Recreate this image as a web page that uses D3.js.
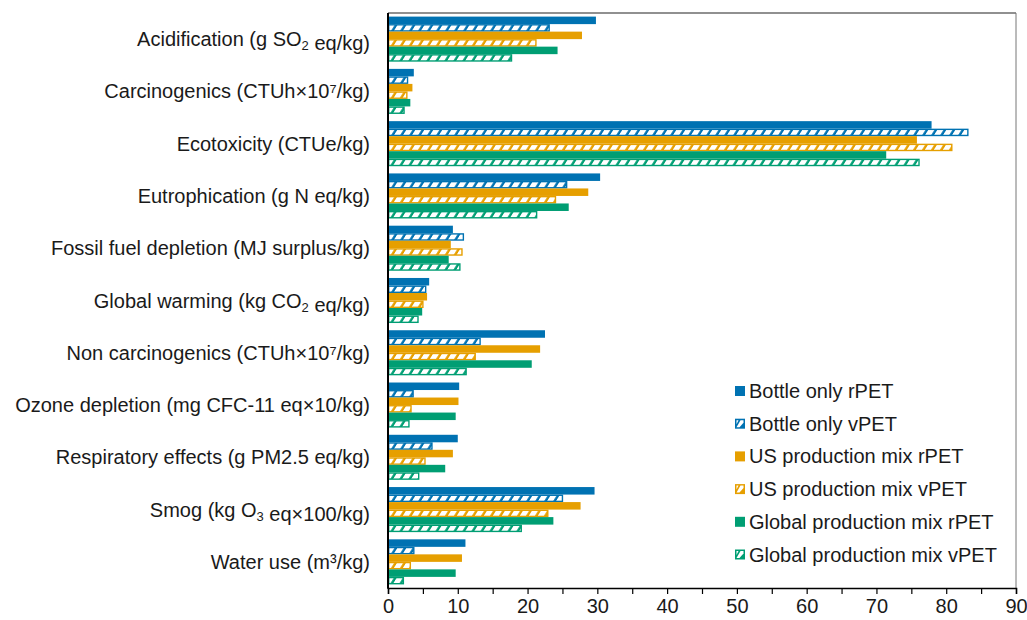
<!DOCTYPE html>
<html>
<head>
<meta charset="utf-8">
<script src="https://cdn.jsdelivr.net/npm/d3@7"></script>
<style>
  html, body { margin: 0; padding: 0; background: #fff; }
  svg { display: block; }
  text { font-family: "Liberation Sans", Arial, sans-serif; fill: #1a1a1a; }
</style>
</head>
<body>
<svg id="chart" width="1027" height="620"></svg>
<script>
// Impact categories; "_{x}" marks a subscript
const categories = [
  "Acidification (g SO_{2} eq/kg)",
  "Carcinogenics (CTUh×10⁷/kg)",
  "Ecotoxicity (CTUe/kg)",
  "Eutrophication (g N eq/kg)",
  "Fossil fuel depletion (MJ surplus/kg)",
  "Global warming (kg CO_{2} eq/kg)",
  "Non carcinogenics (CTUh×10⁷/kg)",
  "Ozone depletion (mg CFC-11 eq×10/kg)",
  "Respiratory effects (g PM2.5 eq/kg)",
  "Smog (kg O_{3} eq×100/kg)",
  "Water use (m³/kg)"
];

const seriesNames = [
  "Bottle only rPET",
  "Bottle only vPET",
  "US production mix rPET",
  "US production mix vPET",
  "Global production mix rPET",
  "Global production mix vPET"
];

const bottleOnlyRPET = [29.8, 3.7, 77.9, 30.4, 9.3, 5.9, 22.5, 10.2, 10.0, 29.6, 11.1];
const bottleOnlyVPET = [23.2, 2.9, 83.2, 25.7, 10.9, 5.5, 13.3, 3.7, 6.4, 25.1, 3.8];
const usMixRPET      = [27.8, 3.5, 75.8, 28.7, 9.0, 5.6, 21.8, 10.1, 9.3, 27.6, 10.6];
const usMixVPET      = [21.3, 2.8, 80.9, 24.1, 10.7, 5.1, 12.6, 3.4, 5.4, 23.0, 3.3];
const globalMixRPET  = [24.3, 3.2, 71.4, 25.9, 8.7, 4.9, 20.6, 9.7, 8.2, 23.7, 9.7];
const globalMixVPET  = [17.8, 2.4, 76.2, 21.4, 10.4, 4.4, 11.3, 3.1, 4.5, 19.2, 2.3];

const seriesValues = [bottleOnlyRPET, bottleOnlyVPET, usMixRPET, usMixVPET, globalMixRPET, globalMixVPET];
const seriesColors = ["#0072B2", "#0072B2", "#E69F00", "#E69F00", "#009E73", "#009E73"];
const seriesHatched = [false, true, false, true, false, true];

const xTicks = [0, 10, 20, 30, 40, 50, 60, 70, 80, 90];
const xMinorTicks = [5, 15, 25, 35, 45, 55, 65, 75, 85];

const FONT_SIZE = 20;

const svg = d3.select("#chart");
const plot = { left: 388, right: 1016, top: 13, bottom: 588 };

const x = d3.scaleLinear().domain([0, 90]).range([plot.left, plot.right]);
const y = d3.scaleBand().domain(categories).range([plot.top, plot.bottom]).padding(0);
const y1 = d3.scaleBand().domain(d3.range(seriesNames.length))
  .range([0, y.bandwidth()]).paddingInner(0).paddingOuter(0.48);

// Diagonal white stripe pattern drawn over the coloured bar body
const defs = svg.append("defs");
const pat = defs.append("pattern")
  .attr("id", "stripes")
  .attr("patternUnits", "userSpaceOnUse")
  .attr("width", 9).attr("height", 9)
  .attr("patternTransform", "skewX(-32)");
pat.append("rect").attr("x", 0).attr("y", 0).attr("width", 6.2).attr("height", 9).attr("fill", "#fff");

// Bars
const groups = svg.append("g").selectAll("g")
  .data(categories)
  .join("g")
  .attr("transform", c => `translate(0,${y(c)})`);

groups.each(function(c, ci) {
  const g = d3.select(this);
  seriesValues.forEach((vals, si) => {
    const bx = x(0), bw = x(vals[ci]) - x(0);
    const by = y1(si), bh = y1.bandwidth();
    g.append("rect")
      .attr("x", bx).attr("y", by).attr("width", bw).attr("height", bh)
      .attr("fill", seriesColors[si]);
    if (seriesHatched[si] && bw > 3) {
      g.append("rect")
        .attr("x", bx + 1.4).attr("y", by + 1.4)
        .attr("width", bw - 2.8).attr("height", bh - 2.8)
        .attr("fill", "url(#stripes)");
    }
  });
});

// Frame
svg.append("line").attr("x1", plot.left).attr("x2", plot.right)
  .attr("y1", plot.top).attr("y2", plot.top).attr("stroke", "#222").attr("stroke-width", 1.2);
svg.append("line").attr("x1", plot.right).attr("x2", plot.right)
  .attr("y1", plot.top).attr("y2", plot.bottom).attr("stroke", "#777").attr("stroke-width", 1);

// X axis with major and minor ticks
const xAxis = svg.append("g")
  .attr("transform", `translate(0,${plot.bottom})`)
  .call(d3.axisBottom(x)
    .tickValues(xTicks.concat(xMinorTicks).sort((a, b) => a - b))
    .tickSize(6).tickPadding(5)
    .tickFormat(d => xTicks.includes(d) ? d : ""));
xAxis.select(".domain").attr("stroke", "#000").attr("stroke-width", 1.5);
xAxis.selectAll(".tick line").attr("stroke", "#000").attr("stroke-width", 1.2);
xAxis.selectAll(".tick text")
  .attr("font-size", FONT_SIZE)
  .attr("font-family", "Liberation Sans, Arial, sans-serif")
  .attr("fill", "#1a1a1a");

// Y axis line
svg.append("line").attr("x1", plot.left).attr("x2", plot.left)
  .attr("y1", plot.top).attr("y2", plot.bottom + 0.75)
  .attr("stroke", "#000").attr("stroke-width", 2);

// Category labels with subscripts
const labels = svg.append("g");
categories.forEach(c => {
  const t = labels.append("text")
    .attr("x", 370).attr("y", y(c) + y.bandwidth() / 2)
    .attr("dy", "0.35em")
    .attr("text-anchor", "end")
    .attr("font-size", FONT_SIZE);
  c.split(/(_\{[^}]*\})/).forEach(part => {
    if (!part) return;
    const m = part.match(/^_\{(.*)\}$/);
    if (m) {
      t.append("tspan").attr("font-size", 13).attr("dy", 4).text(m[1]);
      t.append("tspan").attr("dy", -4).text("");
    } else {
      t.append("tspan").text(part);
    }
  });
});

// Legend
const legend = svg.append("g").attr("transform", "translate(735,391)");
seriesNames.forEach((name, i) => {
  const row = legend.append("g").attr("transform", `translate(0,${i * 32.7})`);
  row.append("rect").attr("x", 0).attr("y", -5).attr("width", 10).attr("height", 10)
    .attr("fill", seriesColors[i]);
  if (seriesHatched[i]) {
    row.append("polygon")
      .attr("points", "1.5,3.5 5.5,-3.5 8.5,-3.5 8.5,-1 4.5,3.5")
      .attr("fill", "#fff");
    row.append("polygon")
      .attr("points", "1.5,0.5 3.5,-3.5 1.5,-3.5")
      .attr("fill", "#fff");
  }
  row.append("text").attr("x", 14).attr("y", 0).attr("dy", "0.35em")
    .attr("font-size", FONT_SIZE).text(name);
});
</script>
</body>
</html>
